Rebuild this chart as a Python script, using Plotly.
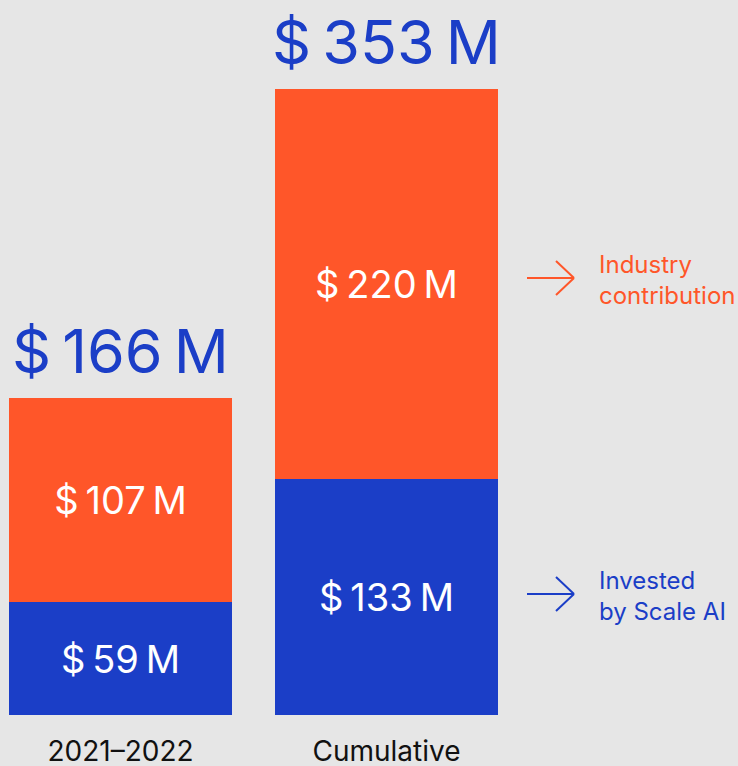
import plotly.graph_objects as go

periods = ["2021–2022", "Cumulative"]
invested = [59, 133]
industry = [107, 220]
totals = [a + b for a, b in zip(invested, industry)]

BG = "#E6E6E6"
ORANGE = "#FF5629"
BLUE = "#1B3EC7"
FONT = "Inter"

W, H = 738, 766


def money(v):
    return f"$\u2009{v}\u2009M"


fig = go.Figure()

# each bar sits on its own axis pair, the reference draws them at slightly different scales
for i, axis in enumerate(["", "2"]):
    xa, ya = "x" + axis, "y" + axis
    fig.add_trace(go.Bar(
        x=[periods[i]], y=[invested[i]], xaxis=xa, yaxis=ya,
        marker=dict(color=BLUE, line_width=0), width=1,
        text=[money(invested[i])], textposition="inside", insidetextanchor="middle",
        textfont=dict(family=FONT, size=38, color="white"),
        hoverinfo="skip", showlegend=False))
    fig.add_trace(go.Bar(
        x=[periods[i]], y=[industry[i]], xaxis=xa, yaxis=ya,
        marker=dict(color=ORANGE, line_width=0), width=1,
        text=[money(industry[i])], textposition="inside", insidetextanchor="middle",
        textfont=dict(family=FONT, size=38, color="white"),
        hoverinfo="skip", showlegend=False))
    fig.add_annotation(
        x=periods[i], y=totals[i], xref=xa, yref=ya,
        text=money(totals[i]), showarrow=False, yanchor="bottom", yshift=8,
        font=dict(family=FONT, size=61, color=BLUE))

y_dom = [51 / H, 1]
axis_common = dict(showgrid=False, zeroline=False, showline=False, automargin=False,
                   fixedrange=True)
tick_font = dict(family=FONT, size=28, color="#111111")
fig.update_layout(
    width=W, height=H,
    paper_bgcolor=BG, plot_bgcolor=BG,
    margin=dict(l=0, r=0, t=0, b=0),
    barmode="stack", bargap=0,
    font=dict(family=FONT),
    xaxis=dict(domain=[9 / W, 232 / W], range=[-0.5, 0.5], ticks="outside", ticklen=11,
               tickcolor=BG, tickfont=tick_font, **axis_common),
    xaxis2=dict(domain=[275 / W, 498 / W], range=[-0.5, 0.5], ticks="outside", ticklen=11,
                tickcolor=BG, tickfont=tick_font, anchor="y2", **axis_common),
    yaxis=dict(domain=y_dom, range=[0, 715 / 1.9096], visible=False, anchor="x",
               fixedrange=True),
    yaxis2=dict(domain=y_dom, range=[0, 715 / 1.7734], visible=False, anchor="x2",
                fixedrange=True),
)

# legend labels with thin arrows on the right
legend_items = [("Industry<br>contribution", ORANGE, 278, 280),
                ("Invested<br>by Scale AI", BLUE, 594, 596)]
for label, color, py, ty in legend_items:
    yp = 1 - py / H
    line = dict(color=color, width=2)
    fig.add_shape(type="line", xref="paper", yref="paper",
                  x0=527 / W, x1=574 / W, y0=yp, y1=yp, line=line)
    fig.add_shape(type="line", xref="paper", yref="paper",
                  x0=556 / W, x1=574 / W, y0=yp + 17 / H, y1=yp, line=line)
    fig.add_shape(type="line", xref="paper", yref="paper",
                  x0=556 / W, x1=574 / W, y0=yp - 17 / H, y1=yp, line=line)
    fig.add_annotation(
        x=597 / W, y=1 - ty / H, xref="paper", yref="paper", text=label, showarrow=False,
        xanchor="left", yanchor="middle", align="left",
        font=dict(family=FONT, size=24, color=color))

fig.write_html("out.html", config={"displayModeBar": False},
               post_script="document.body.style.margin='0';")
